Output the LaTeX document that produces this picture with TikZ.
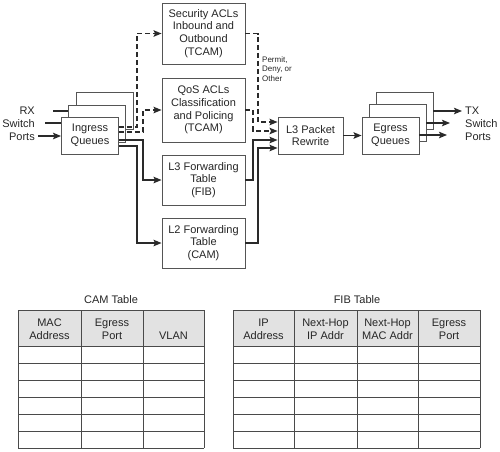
\documentclass[tikz,border=0pt]{standalone}
\usepackage{fontspec}
\setmainfont{Liberation Sans}
\usetikzlibrary{arrows.meta}
\definecolor{boxcol}{HTML}{555555}
\definecolor{conncol}{HTML}{2A2A2A}
\definecolor{hdrfill}{HTML}{E2E2E2}
\definecolor{gridcol}{HTML}{4A4A4A}
\begin{document}
\begin{tikzpicture}[x=1pt,y=-1pt,
  box/.style={draw=boxcol, line width=0.9pt, fill=white, align=center,
    font=\fontsize{11}{12.8}\selectfont, inner sep=0pt, text=black!85},
  fbox/.style={box, minimum width=83pt},
  qbox/.style={box, minimum width=57pt, minimum height=37pt},
  conn/.style={draw=conncol, line width=1.3pt},
  dconn/.style={conn, dash pattern=on 5pt off 3pt},
  tip/.style={-{Stealth[length=8pt,width=6.5pt,inset=1.5pt]}},
  lbl/.style={font=\fontsize{11}{12.8}\selectfont, inner sep=0pt, text=black!85},
  small/.style={font=\fontsize{8}{9.5}\selectfont, inner sep=0pt, text=black!85, align=left},
  grid/.style={draw=gridcol, line width=0.8pt},
  hdr/.style={lbl, align=center}
]
\useasboundingbox (0,0) rectangle (500,451);

% Ingress queues
\node[qbox] (ing3) at (104.5,111) {};
\node[qbox] (ing2) at (97,123.5) {};
\node[qbox] (ing1) at (90,135.5) {Ingress\\Queues};

% Egress queues
\node[qbox] (eg3) at (404.5,110.5) {};
\node[qbox] (eg2) at (397.5,123) {};
\node[qbox] (eg1) at (390.5,135.5) {Egress\\Queues};

% Middle boxes
\node[fbox, minimum height=61pt] (sec) at (203.5,33.5) {Security ACLs\\Inbound and\\Outbound\\(TCAM)};
\node[fbox, minimum height=64pt] (qos) at (203.5,110) {QoS ACLs\\Classification\\and Policing\\(TCAM)};
\node[fbox, minimum height=50pt] (l3f) at (203.5,180) {L3 Forwarding\\Table\\(FIB)};
\node[fbox, minimum height=50pt] (l2f) at (203.5,243) {L2 Forwarding\\Table\\(CAM)};

% Rewrite
\node[box, minimum width=65pt, minimum height=37pt] (rew) at (310.5,135.5) {L3 Packet\\Rewrite};

% RX / TX labels
\node[lbl, align=right, anchor=east] (rx) at (35,124) {RX\\Switch\\Ports};
\node[lbl, align=left, anchor=west] (tx) at (465,124) {TX\\Switch\\Ports};
\node[small, anchor=north west] (perm) at (262,56) {Permit,\\Deny, or\\Other};

% RX inputs
\coordinate (rx1) at (53,111);
\coordinate (rx2) at (45,123);
\coordinate (rx3) at (38,136);
\draw[conn] (rx1) -- (ing2.west |- rx1);
\draw[conn] (rx2) -- (ing1.west |- rx2);
\draw[conn, tip] (rx3) -- (ing1.west |- rx3);

% Ingress to lookups
\draw[dconn, tip] (ing1.east |- 0,127) -- (137,127) |- (sec.west);
\draw[dconn, tip] (ing1.east |- 0,132) -- (143,132) |- (qos.west);
\draw[conn, tip] (ing1.east |- 0,140) -- (143,140) |- (l3f.west);
\draw[conn, tip] (ing1.east |- 0,146) -- (137,146) |- (l2f.west);

% Lookups to rewrite
\draw[dconn, tip] (sec.east) -- (258,33.5) |- (rew.west |- 0,122);
\draw[dconn, tip] (qos.east) -- (253,110) |- (rew.west |- 0,131);
\draw[conn, tip] (l3f.east) -- (253,180) |- (rew.west |- 0,140);
\draw[conn, tip] (l2f.east) -- (258,243) |- (rew.west |- 0,148);

% Rewrite to egress
\draw[conn, tip] (rew.east) -- (eg1.west);

% TX outputs
\coordinate (tx1) at (462,111);
\coordinate (tx2) at (450,123);
\coordinate (tx3) at (447,135);
\draw[conn, tip] (eg3.east |- tx1) -- (tx1);
\draw[conn, tip] (eg2.east |- tx2) -- (tx2);
\draw[conn, tip] (eg1.east |- tx3) -- (tx3);

% CAM table
\node[lbl] (camt) at (111,300) {CAM Table};
\fill[hdrfill] (18,310) rectangle (204,346);
\foreach \y in {310,346,363,380,397,414,431,448} \draw[grid] (18,\y) -- (204,\y);
\foreach \x in {18,81,143,204} \draw[grid] (\x,310) -- (\x,448);
\node[hdr] (cam1) at (49.5,329) {MAC\\Address};
\node[hdr] (cam2) at (112,329) {Egress\\Port};
\node[hdr] (cam3) at (173.5,335.5) {VLAN};

% FIB table
\node[lbl] (fibt) at (357,300) {FIB Table};
\fill[hdrfill] (233,310) rectangle (480,346);
\foreach \y in {310,346,363,380,397,414,431,448} \draw[grid] (233,\y) -- (480,\y);
\foreach \x in {233,294,357,418,480} \draw[grid] (\x,310) -- (\x,448);
\node[hdr] (fib1) at (263.5,329) {IP\\Address};
\node[hdr] (fib2) at (325.5,329) {Next-Hop\\IP Addr};
\node[hdr] (fib3) at (387.5,329) {Next-Hop\\MAC Addr};
\node[hdr] (fib4) at (449,329) {Egress\\Port};
\end{tikzpicture}
\end{document}
